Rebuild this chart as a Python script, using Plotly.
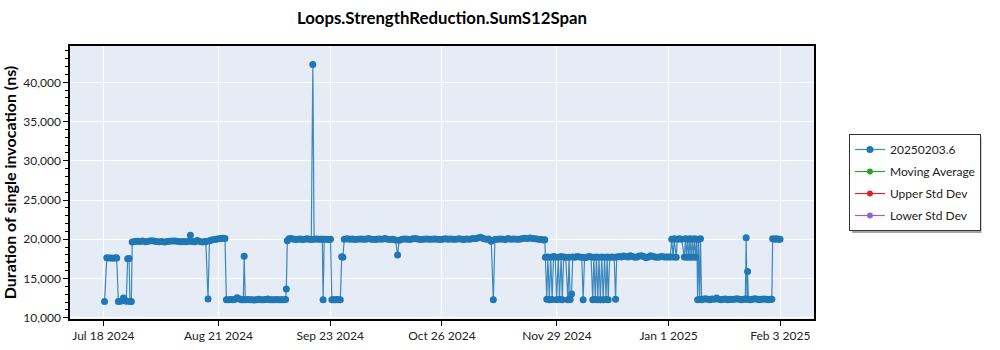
import plotly.graph_objects as go

# ---------------- data ----------------
run_times = [
    # Jul 18 - Jul 26
    "2024-07-18 08:00", "2024-07-19 00:00", "2024-07-19 16:00", "2024-07-20 08:00", "2024-07-21 00:00",
    "2024-07-21 16:00", "2024-07-21 22:00", "2024-07-22 10:00", "2024-07-23 00:00", "2024-07-23 12:00",
    "2024-07-23 22:00", "2024-07-24 08:00", "2024-07-24 18:00", "2024-07-25 04:00", "2024-07-25 14:00",
    "2024-07-25 20:00", "2024-07-26 06:00", "2024-07-26 12:00",
    # Jul 27 - Aug 23
    "2024-07-27 06:00", "2024-07-28 02:00", "2024-07-28 20:00", "2024-07-29 14:00", "2024-07-30 10:00",
    "2024-07-31 06:00", "2024-08-01 02:00", "2024-08-01 20:00", "2024-08-02 14:00", "2024-08-03 10:00",
    "2024-08-04 06:00", "2024-08-05 02:00", "2024-08-05 20:00", "2024-08-06 14:00", "2024-08-07 10:00",
    "2024-08-08 06:00", "2024-08-09 02:00", "2024-08-09 20:00", "2024-08-10 14:00", "2024-08-11 10:00",
    "2024-08-12 06:00", "2024-08-12 17:00", "2024-08-13 04:00", "2024-08-14 00:00", "2024-08-14 18:00",
    "2024-08-15 12:00", "2024-08-16 08:00", "2024-08-17 00:00", "2024-08-17 06:00", "2024-08-17 22:00",
    "2024-08-18 08:00", "2024-08-19 00:00", "2024-08-19 16:00", "2024-08-20 08:00", "2024-08-21 00:00",
    "2024-08-21 16:00", "2024-08-22 08:00", "2024-08-22 22:00",
    # Aug 23 - Sep 10
    "2024-08-23 08:00", "2024-08-24 00:00", "2024-08-24 16:00", "2024-08-25 08:00", "2024-08-26 00:00",
    "2024-08-26 12:00", "2024-08-27 02:00", "2024-08-27 18:00", "2024-08-28 08:00", "2024-08-28 14:00",
    "2024-08-28 22:00", "2024-08-29 14:00", "2024-08-30 06:00", "2024-08-30 22:00", "2024-08-31 14:00",
    "2024-09-01 06:00", "2024-09-01 22:00", "2024-09-02 14:00", "2024-09-03 06:00", "2024-09-03 22:00",
    "2024-09-04 14:00", "2024-09-05 06:00", "2024-09-05 22:00", "2024-09-06 14:00", "2024-09-07 06:00",
    "2024-09-07 22:00", "2024-09-08 14:00", "2024-09-09 06:00", "2024-09-09 20:00", "2024-09-10 01:00",
    "2024-09-10 08:00", "2024-09-10 20:00",
    # Sep 11 - Sep 27
    "2024-09-11 12:00", "2024-09-12 04:00", "2024-09-12 20:00", "2024-09-13 12:00", "2024-09-14 04:00",
    "2024-09-14 20:00", "2024-09-15 12:00", "2024-09-16 04:00", "2024-09-16 20:00", "2024-09-17 10:00",
    "2024-09-17 21:00", "2024-09-18 06:00", "2024-09-18 22:00", "2024-09-19 14:00", "2024-09-20 06:00",
    "2024-09-20 16:00", "2024-09-20 22:00", "2024-09-21 06:00", "2024-09-21 22:00", "2024-09-22 14:00",
    "2024-09-23 02:00", "2024-09-23 12:00", "2024-09-24 00:00", "2024-09-24 12:00", "2024-09-25 00:00",
    "2024-09-25 12:00", "2024-09-26 00:00", "2024-09-26 10:00", "2024-09-26 18:00", "2024-09-27 04:00",
    # Sep 28 - Nov 25
    "2024-09-28 00:00", "2024-09-28 18:00", "2024-09-29 12:00", "2024-09-30 08:00", "2024-10-01 04:00",
    "2024-10-02 00:00", "2024-10-02 18:00", "2024-10-03 12:00", "2024-10-04 08:00", "2024-10-05 04:00",
    "2024-10-06 00:00", "2024-10-06 18:00", "2024-10-07 12:00", "2024-10-08 08:00", "2024-10-09 04:00",
    "2024-10-10 00:00", "2024-10-10 18:00", "2024-10-11 12:00", "2024-10-12 08:00", "2024-10-12 22:00",
    "2024-10-13 10:00", "2024-10-14 06:00", "2024-10-15 02:00", "2024-10-15 20:00", "2024-10-16 14:00",
    "2024-10-17 10:00", "2024-10-18 06:00", "2024-10-19 02:00", "2024-10-19 20:00", "2024-10-20 14:00",
    "2024-10-21 10:00", "2024-10-22 06:00", "2024-10-23 02:00", "2024-10-23 20:00", "2024-10-24 14:00",
    "2024-10-25 10:00", "2024-10-26 06:00", "2024-10-27 02:00", "2024-10-27 20:00", "2024-10-28 14:00",
    "2024-10-29 10:00", "2024-10-30 06:00", "2024-10-31 02:00", "2024-10-31 20:00", "2024-11-01 14:00",
    "2024-11-02 10:00", "2024-11-03 06:00", "2024-11-04 02:00", "2024-11-04 20:00", "2024-11-05 14:00",
    "2024-11-06 10:00", "2024-11-07 06:00", "2024-11-08 02:00", "2024-11-08 20:00", "2024-11-09 14:00",
    "2024-11-10 05:00", "2024-11-10 16:00", "2024-11-11 10:00", "2024-11-12 06:00", "2024-11-13 02:00",
    "2024-11-13 20:00", "2024-11-14 14:00", "2024-11-15 10:00", "2024-11-16 06:00", "2024-11-17 02:00",
    "2024-11-17 20:00", "2024-11-18 14:00", "2024-11-19 10:00", "2024-11-20 06:00", "2024-11-21 02:00",
    "2024-11-21 20:00", "2024-11-22 14:00", "2024-11-23 10:00", "2024-11-24 06:00", "2024-11-25 00:00",
    "2024-11-25 10:00",
    # Nov 25 - Jan 1
    "2024-11-25 14:00", "2024-11-26 00:00", "2024-11-26 08:00", "2024-11-26 18:00", "2024-11-27 04:00",
    "2024-11-27 14:00", "2024-11-28 00:00", "2024-11-28 12:00", "2024-11-28 22:00", "2024-11-29 10:00",
    "2024-11-29 18:00", "2024-11-30 06:00", "2024-11-30 14:00", "2024-12-01 00:00", "2024-12-01 14:00",
    "2024-12-02 06:00", "2024-12-02 14:00", "2024-12-02 22:00", "2024-12-03 08:00", "2024-12-03 16:00",
    "2024-12-04 08:00", "2024-12-05 00:00", "2024-12-05 16:00", "2024-12-06 08:00", "2024-12-06 18:00",
    "2024-12-07 04:00", "2024-12-07 20:00", "2024-12-08 12:00", "2024-12-09 02:00", "2024-12-09 14:00",
    "2024-12-09 22:00", "2024-12-10 08:00", "2024-12-10 16:00", "2024-12-11 02:00", "2024-12-11 10:00",
    "2024-12-11 20:00", "2024-12-12 06:00", "2024-12-12 16:00", "2024-12-13 02:00", "2024-12-13 12:00",
    "2024-12-13 20:00", "2024-12-14 04:00", "2024-12-14 14:00", "2024-12-15 06:00", "2024-12-15 22:00",
    "2024-12-16 08:00", "2024-12-16 16:00", "2024-12-17 08:00", "2024-12-18 00:00", "2024-12-18 16:00",
    "2024-12-19 08:00", "2024-12-20 00:00", "2024-12-20 16:00", "2024-12-21 08:00", "2024-12-22 00:00",
    "2024-12-22 16:00", "2024-12-23 08:00", "2024-12-24 00:00", "2024-12-24 16:00", "2024-12-25 08:00",
    "2024-12-26 00:00", "2024-12-26 16:00", "2024-12-27 08:00", "2024-12-28 00:00", "2024-12-28 16:00",
    "2024-12-29 08:00", "2024-12-30 00:00", "2024-12-30 16:00", "2024-12-31 08:00", "2025-01-01 00:00",
    "2025-01-01 12:00",
    # Jan 1 - Jan 10
    "2025-01-01 22:00", "2025-01-02 08:00", "2025-01-02 16:00", "2025-01-03 06:00", "2025-01-03 14:00",
    "2025-01-04 04:00", "2025-01-04 20:00", "2025-01-05 16:00", "2025-01-06 00:00", "2025-01-06 08:00",
    "2025-01-06 16:00", "2025-01-07 00:00", "2025-01-07 08:00", "2025-01-07 16:00", "2025-01-08 00:00",
    "2025-01-08 08:00", "2025-01-08 16:00", "2025-01-09 00:00", "2025-01-09 08:00", "2025-01-09 14:00",
    "2025-01-09 20:00", "2025-01-10 04:00", "2025-01-10 10:00", "2025-01-10 18:00",
    # Jan 11 - Feb 3
    "2025-01-11 04:00", "2025-01-11 20:00", "2025-01-12 12:00", "2025-01-13 04:00", "2025-01-13 20:00",
    "2025-01-14 12:00", "2025-01-15 04:00", "2025-01-15 20:00", "2025-01-16 12:00", "2025-01-17 04:00",
    "2025-01-17 20:00", "2025-01-18 12:00", "2025-01-19 04:00", "2025-01-19 20:00", "2025-01-20 12:00",
    "2025-01-21 04:00", "2025-01-21 20:00", "2025-01-22 12:00", "2025-01-23 04:00", "2025-01-23 16:00",
    "2025-01-23 22:00", "2025-01-24 04:00", "2025-01-24 08:00", "2025-01-24 14:00", "2025-01-25 04:00",
    "2025-01-25 20:00", "2025-01-26 12:00", "2025-01-27 04:00", "2025-01-27 20:00", "2025-01-28 12:00",
    "2025-01-29 04:00", "2025-01-29 20:00", "2025-01-30 12:00", "2025-01-31 04:00", "2025-01-31 12:00",
    "2025-01-31 18:00", "2025-02-01 08:00", "2025-02-01 20:00", "2025-02-02 12:00", "2025-02-02 22:00",
]

durations_ns = [
    # Jul 18 - Jul 26
    12050, 17650, 17600, 17620, 17580,
    17640, 17600, 12050, 12100, 12150,
    12500, 12250, 12100, 17500, 17550,
    12080, 12050, 19650,
    # Jul 27 - Aug 23
    19720, 19750, 19700, 19780, 19690,
    19730, 19800, 19760, 19700, 19680,
    19720, 19650, 19700, 19740, 19790,
    19760, 19700, 19680, 19720, 19690,
    19750, 20500, 19720, 19680, 19850,
    19700, 19660, 19720, 19680, 12380,
    19800, 19900, 19950, 20000, 20050,
    20100, 20120, 20080,
    # Aug 23 - Sep 10
    12300, 12280, 12320, 12300, 12350,
    12550, 12400, 12300, 12280, 17820,
    12300, 12320, 12280, 12300, 12260,
    12300, 12350, 12300, 12280, 12320,
    12380, 12300, 12280, 12300, 12320,
    12300, 12280, 12300, 12320, 13650,
    19800, 20050,
    # Sep 11 - Sep 27
    20100, 20000, 19950, 20000, 20020,
    19980, 20000, 20050, 20000, 19980,
    42280, 20000, 20020, 19990, 20000,
    20010, 12300, 20000, 20000, 19980,
    20000, 12300, 12280, 12300, 12320,
    12300, 12280, 17770, 17700, 20000,
    # Sep 28 - Nov 25
    20050, 20000, 20020, 19980, 20000,
    20030, 20000, 19990, 20100, 20000,
    19980, 20000, 20020, 20000, 20080,
    20000, 19970, 20000, 19900, 17990,
    19880, 20000, 20020, 20000, 19980,
    20050, 20100, 20000, 19980, 20000,
    20020, 19990, 20000, 20030, 20000,
    19980, 20000, 20050, 20000, 20020,
    19990, 20000, 20060, 20000, 19980,
    20040, 20000, 20100, 20050, 20150,
    20250, 20100, 20000, 20020, 19750,
    12300, 19950, 20000, 20020, 20000,
    19980, 20100, 20000, 20030, 20000,
    19990, 20050, 20120, 20080, 20150,
    20100, 20050, 20000, 19950, 19900,
    19920,
    # Nov 25 - Jan 1
    17700, 12350, 17750, 12300, 17700,
    12320, 17800, 17750, 12300, 17700,
    12350, 17800, 12300, 17750, 17700,
    12300, 17700, 12320, 13020, 17750,
    17700, 17800, 17750, 17700, 12300,
    17650, 17700, 17800, 17750, 12300,
    17700, 12320, 17750, 12300, 17700,
    12280, 17750, 12300, 17700, 12320,
    17750, 12300, 17700, 17750, 17700,
    12350, 17750, 17800, 17750, 17850,
    17800, 17750, 17900, 17800, 17700,
    17750, 17850, 17900, 17800, 17650,
    17750, 17900, 17800, 17750, 17700,
    17750, 17800, 17750, 17750, 17750,
    17750,
    # Jan 1 - Jan 10
    20000, 17750, 20050, 17700, 20000,
    20050, 20000, 17750, 20050, 17700,
    20000, 17750, 20050, 17700, 20000,
    17750, 20050, 17700, 20000, 12300,
    20000, 12320, 20050, 12300,
    # Jan 11 - Feb 3
    12350, 12400, 12350, 12300, 12380,
    12350, 12500, 12350, 12300, 12350,
    12380, 12300, 12350, 12320, 12350,
    12400, 12350, 12300, 12350, 12380,
    20200, 12350, 15900, 12350, 12300,
    12350, 12400, 12350, 12300, 12350,
    12380, 12350, 12300, 12350, 12350,
    20050, 20000, 20050, 20000, 20000,
]

series_names = ["20250203.6", "Moving Average", "Upper Std Dev", "Lower Std Dev"]
series_colors = ["#1f77b4", "#2ca02c", "#d62728", "#9467bd"]

tick_dates = ["2024-07-18", "2024-08-21", "2024-09-23", "2024-10-26",
              "2024-11-29", "2025-01-01", "2025-02-03"]
tick_labels = ["Jul 18 2024", "Aug 21 2024", "Sep 23 2024", "Oct 26 2024",
               "Nov 29 2024", "Jan 1 2025", "Feb 3 2025"]

x_range = ["2024-07-08 03:00", "2025-02-12 23:00"]
y_range = [9834, 44626]
y_ticks = [10000, 15000, 20000, 25000, 30000, 35000, 40000]

FONT = "Lato"

fig = go.Figure()
fig.add_trace(go.Scatter(
    x=run_times, y=durations_ns, mode="lines+markers", name=series_names[0],
    legendgroup="g0",
    line=dict(color="rgba(31,119,180,0.85)", width=1.2),
    marker=dict(color=series_colors[0], size=7),
))
for i in range(1, 4):
    fig.add_trace(go.Scatter(
        x=[None], y=[None], mode="lines+markers", name=series_names[i],
        legendgroup="g%d" % i,
        line=dict(color=series_colors[i], width=1.2),
        marker=dict(color=series_colors[i], size=6),
    ))

axis_common = dict(
    showline=True, linecolor="black", linewidth=1.5, mirror=True,
    ticks="outside", ticklen=5, tickcolor="black",
    gridcolor="white", gridwidth=1, zeroline=False,
    tickfont=dict(family=FONT, size=12, color="#222"),
)

fig.update_xaxes(
    type="date", range=x_range, tickvals=tick_dates, ticktext=tick_labels,
    **axis_common,
)
fig.update_yaxes(
    range=y_range, tickvals=y_ticks, tickformat=",",
    title=dict(text="Duration of single invocation (ns)",
               font=dict(family=FONT, size=16, color="black", weight="bold"),
               standoff=8),
    minor=dict(dtick=1000, tick0=0, ticks="outside", ticklen=3, tickcolor="black", showgrid=False),
    **axis_common,
)

# legend drop shadow (pixel box converted to paper coordinates)
PL, PW, PT, PH = 70, 744, 46, 273
def px_to_paper_x(px):
    return (px - PL) / PW
def px_to_paper_y(py):
    return (PT + PH - py) / PH

fig.add_shape(type="rect", xref="paper", yref="paper",
              x0=px_to_paper_x(852), x1=px_to_paper_x(981.5),
              y0=px_to_paper_y(233), y1=px_to_paper_y(137),
              fillcolor="rgba(0,0,0,0.35)", line=dict(width=0), layer="above")

fig.update_layout(
    width=1000, height=350,
    margin=dict(l=70, r=186, t=46, b=31, autoexpand=False),
    paper_bgcolor="white", plot_bgcolor="#E5ECF6",
    title=dict(text="Loops.StrengthReduction.SumS12Span", x=0.5, xref="paper",
               y=1 - 18 / 350, yref="container", yanchor="middle",
               font=dict(family=FONT, size=16.8, color="black", weight="bold")),
    legend=dict(x=1.047, xanchor="left", y=0.5, yanchor="middle",
                bgcolor="white", bordercolor="#333", borderwidth=1,
                font=dict(family=FONT, size=12, color="#222"),
                tracegroupgap=3),
    showlegend=True,
)

fig.write_html("out.html")
